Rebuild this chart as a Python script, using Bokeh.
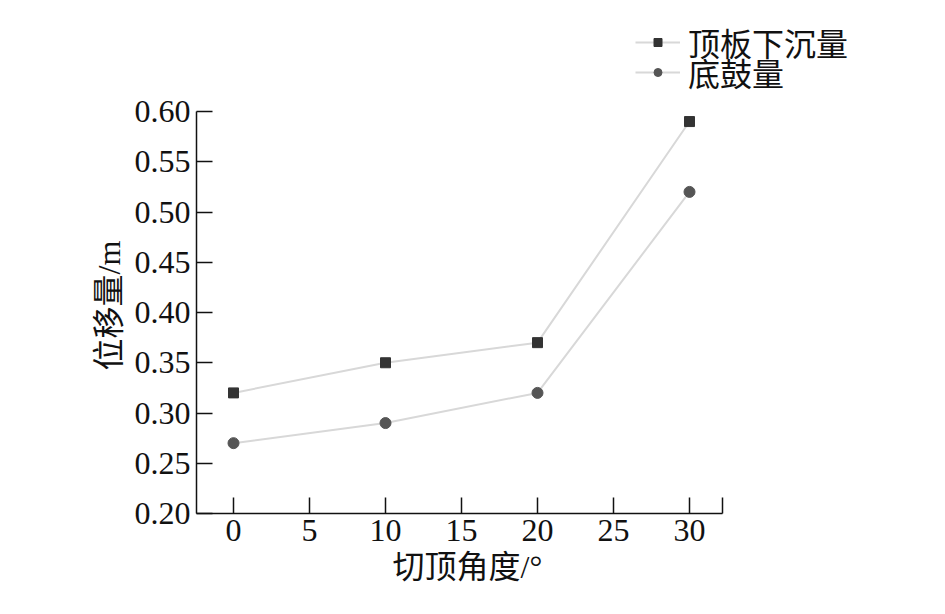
from bokeh.plotting import figure
from bokeh.models import FixedTicker, Legend, LegendItem, Range1d, PrintfTickFormatter, Title
from bokeh.embed import file_html
from bokeh.resources import INLINE

# data
angles = [0, 10, 20, 30]
roof_subsidence = [0.32, 0.35, 0.37, 0.59]
floor_heave = [0.27, 0.29, 0.32, 0.52]
series_names = ["顶板下沉量", "底鼓量"]
x_ticks = [0, 5, 10, 15, 20, 25, 30, 32.2]
y_ticks = [0.20, 0.25, 0.30, 0.35, 0.40, 0.45, 0.50, 0.55, 0.60]
x_label = "切顶角度/°"
y_label = "位移量/m"

SERIF = "Liberation Serif, Noto Sans CJK SC"
CJK = "Noto Sans CJK SC"

# layout geometry (pixels)
W, H = 925, 595
FL, FR, FT, FB = 196, 905, 10, 513   # frame edges
X0_PX, X30_PX = 233, 689
Y20_PX, Y60_PX = 513, 111
xs = (X30_PX - X0_PX) / 30.0
ys = (Y20_PX - Y60_PX) / 0.4
x_start = (FL - X0_PX) / xs
x_end = (FR - X0_PX) / xs
y_start = 0.20 - (FB - Y20_PX) / ys
y_end = 0.60 + (Y60_PX - FT) / ys
axis_x_end = 32.2

p = figure(width=W, height=H, output_backend="svg", toolbar_location=None,
           x_range=Range1d(x_start, x_end), y_range=Range1d(y_start, y_end),
           min_border_left=FL, min_border_right=W - FR, min_border_top=FT,
           min_border_bottom=H - FB)
p.outline_line_color = None
p.xgrid.visible = False
p.ygrid.visible = False
p.background_fill_color = "white"

for ax in (p.xaxis[0], p.yaxis[0]):
    ax.axis_line_color = "#111111"
    ax.axis_line_width = 1.5
    ax.major_tick_line_color = "#111111"
    ax.major_tick_line_width = 1.5
    ax.major_tick_in = 16
    ax.major_tick_out = 0
    ax.minor_tick_line_color = None
    ax.major_label_text_font = "Liberation Serif"
    ax.major_label_text_font_size = "32px"
    ax.major_label_text_color = "#111111"

p.xaxis.ticker = FixedTicker(ticks=x_ticks)
p.xaxis.major_label_overrides = {axis_x_end: ""}
p.xaxis.bounds = (x_start, axis_x_end)
p.xaxis.major_label_standoff = 6

p.yaxis.ticker = FixedTicker(ticks=y_ticks)
p.yaxis.bounds = (0.20, 0.60)
p.yaxis.formatter = PrintfTickFormatter(format="%.2f")
p.yaxis.major_label_standoff = 6

# axis titles placed as side-panel titles
xt = Title(text=x_label, align="left", offset=392 - FL, standoff=7,
           text_font=SERIF, text_font_size="32px", text_font_style="normal",
           text_color="#111111")
p.add_layout(xt, "below")
yt = Title(text=y_label, align="left", offset=FB - 370, standoff=10,
           text_font=SERIF, text_font_size="32px", text_font_style="normal",
           text_color="#111111")
p.add_layout(yt, "left")

l1 = p.line(angles, roof_subsidence, line_color="#d8d8d8", line_width=2)
m1 = p.scatter(angles, roof_subsidence, marker="square", size=10,
               fill_color="#333333", line_color="#333333")
l2 = p.line(angles, floor_heave, line_color="#d8d8d8", line_width=2)
m2 = p.scatter(angles, floor_heave, marker="circle", size=11,
               fill_color="#555555", line_color="#555555")

def make_legend(label, rends, loc):
    lg = Legend(items=[LegendItem(label=label, renderers=rends)], location=loc,
                padding=0, margin=0, spacing=0, glyph_width=45, glyph_height=20,
                label_standoff=8, border_line_color=None, background_fill_alpha=0,
                label_text_font=CJK, label_text_font_size="32px", label_text_color="#111111")
    p.add_layout(lg, "center")

make_legend(series_names[0], [l1, m1], (635 - FL, FB - 44 - 21))
make_legend(series_names[1], [l2, m2], (635 - FL, FB - 74 - 21))

open("out.html", "w").write(file_html(p, INLINE))
